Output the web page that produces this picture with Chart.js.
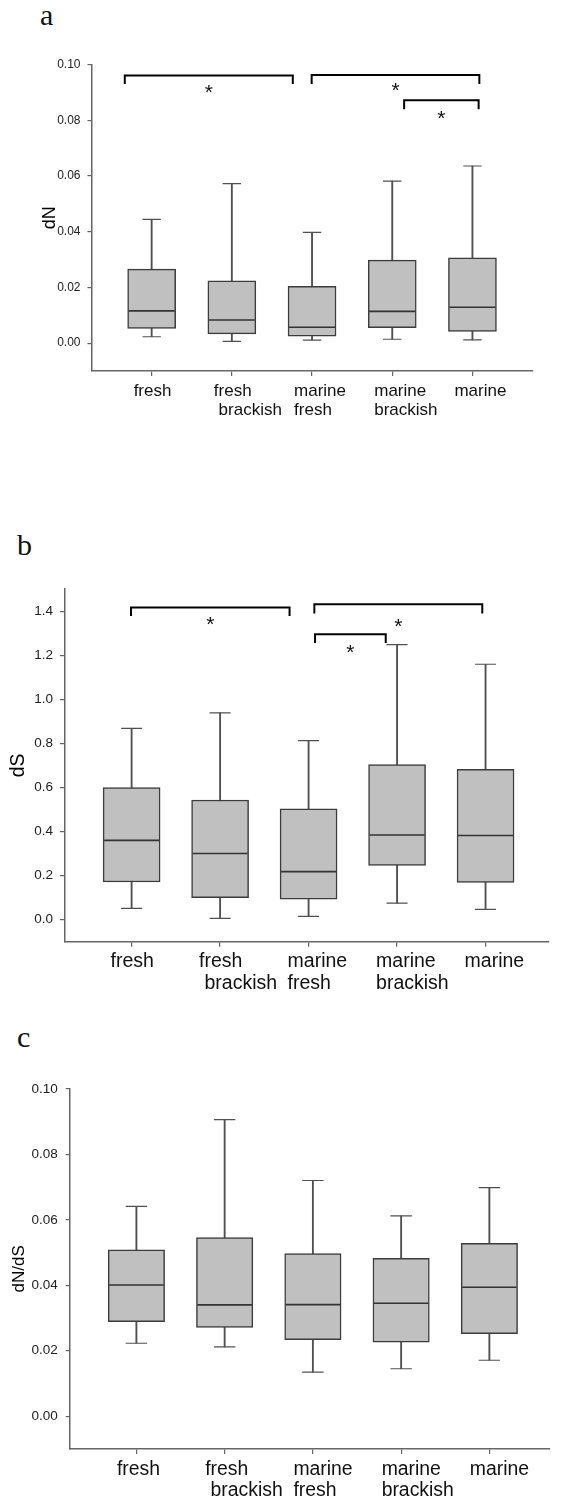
<!DOCTYPE html>
<html>
<head>
<meta charset="utf-8">
<script src="https://cdn.jsdelivr.net/npm/chart.js@4.4.1/dist/chart.umd.min.js"></script>
<style>
  html, body { margin: 0; padding: 0; background: #fff; }
  body { width: 578px; height: 1503px; position: relative; overflow: hidden; }
  .panel { position: absolute; left: 0; width: 578px; }
  .tag { position: absolute; font-family: "Liberation Serif", "Times New Roman", serif; font-size: 30px; line-height: 30px; color: #111; }
</style>
</head>
<body>
<div class="tag" style="left:40px; top:0px;">a</div>
<div class="panel" style="top:40px; height:400px;"><canvas id="chartA"></canvas></div>
<div class="tag" style="left:17px; top:530px;">b</div>
<div class="panel" style="top:560px; height:440px;"><canvas id="chartB"></canvas></div>
<div class="tag" style="left:17px; top:1022px;">c</div>
<div class="panel" style="top:1060px; height:443px;"><canvas id="chartC"></canvas></div>

<script>
// categories (shared by all three panels)
const groupLabels = [['fresh'], ['fresh', ' brackish'], ['marine', 'fresh'], ['marine', 'brackish'], ['marine']];
const groupPos = [1, 2, 3, 4, 5];

// a - dN
const dnMin    = [0.0023, 0.0006, 0.0011, 0.0014, 0.0012];
const dnQ1     = [0.0053, 0.0033, 0.0025, 0.0056, 0.0042];
const dnMedian = [0.0116, 0.0083, 0.0057, 0.0114, 0.0129];
const dnQ3     = [0.0266, 0.0224, 0.0204, 0.0298, 0.0306];
const dnMax    = [0.0444, 0.0573, 0.0398, 0.0582, 0.0636];
const dnTicks  = [0, 0.02, 0.04, 0.06, 0.08, 0.10];
// significance brackets: [from, to, top, drop, star y]
const dnBrackets = [
  [0.665, 2.76, 0.0961, 0.0930, 0.0922],
  [2.995, 5.086, 0.0963, 0.0930, 0.0926],
  [4.148, 5.077, 0.0872, 0.0840, 0.0828]
];

// b - dS
const dsMin    = [0.051, 0.006, 0.015, 0.075, 0.047];
const dsQ1     = [0.171, 0.100, 0.093, 0.246, 0.169];
const dsMedian = [0.360, 0.300, 0.218, 0.384, 0.382];
const dsQ3     = [0.599, 0.543, 0.503, 0.704, 0.682];
const dsMax    = [0.868, 0.938, 0.812, 1.248, 1.159];
const dsTicks  = [0, 0.2, 0.4, 0.6, 0.8, 1.0, 1.2, 1.4];
const dsBrackets = [
  [0.993, 2.785, 1.417, 1.378, 1.364],
  [3.065, 4.963, 1.431, 1.389, 1.358],
  [3.073, 3.872, 1.295, 1.255, 1.237]
];

// c - dN/dS
const ratioMin    = [0.0223, 0.0212, 0.0135, 0.0145, 0.0171];
const ratioQ1     = [0.0289, 0.0271, 0.0234, 0.0226, 0.0252];
const ratioMedian = [0.0401, 0.0340, 0.0341, 0.0345, 0.0394];
const ratioQ3     = [0.0508, 0.0546, 0.0497, 0.0482, 0.0528];
const ratioMax    = [0.0641, 0.0906, 0.0720, 0.0612, 0.0698];
const ratioTicks  = [0, 0.02, 0.04, 0.06, 0.08, 0.10];

Chart.defaults.font.family = '"Liberation Sans", Arial, sans-serif';
Chart.defaults.color = '#111';

// asterisks over the brackets
const STAR_SIZE = 21;
const starPlugin = {
  id: 'stars',
  afterDatasetsDraw(chart, args, opts) {
    const marks = opts.marks || [];
    const { ctx } = chart;
    const x = chart.scales.x, y = chart.scales.y;
    ctx.save();
    ctx.font = STAR_SIZE + 'px "Liberation Sans", Arial, sans-serif';
    ctx.fillStyle = '#111';
    ctx.textAlign = 'center';
    ctx.textBaseline = 'alphabetic';
    marks.forEach(b => {
      const px = x.getPixelForValue((b[0] + b[1]) / 2);
      const py = y.getPixelForValue(b[4]);
      ctx.fillText('*', px, py + 0.58 * STAR_SIZE);
    });
    ctx.restore();
  }
};

function buildPanel(id, p) {
  const datasets = [
    { // whiskers
      type: 'bar',
      data: groupPos.map((x, i) => ({ x: x, y: [p.min[i], p.max[i]] })),
      barThickness: 1.2,
      backgroundColor: '#505050',
      grouped: false,
      order: 4
    },
    { // boxes
      type: 'bar',
      data: groupPos.map((x, i) => ({ x: x, y: [p.q1[i], p.q3[i]] })),
      barThickness: p.boxWidth,
      backgroundColor: '#c0c0c0',
      borderColor: '#3c3c3c',
      borderWidth: 1.5,
      borderSkipped: false,
      grouped: false,
      order: 3
    },
    { // caps
      type: 'line',
      showLine: false,
      data: groupPos.flatMap((x, i) => [{ x: x, y: p.min[i] }, { x: x, y: p.max[i] }]),
      pointStyle: 'line',
      pointRadius: p.capWidth / 2,
      borderColor: '#505050',
      pointBorderColor: '#505050',
      pointBorderWidth: 1.2,
      order: 2
    },
    { // medians
      type: 'line',
      showLine: false,
      data: groupPos.map((x, i) => ({ x: x, y: p.median[i] })),
      pointStyle: 'line',
      pointRadius: p.boxWidth / 2 - 1,
      borderColor: '#333',
      pointBorderColor: '#333',
      pointBorderWidth: 1.6,
      order: 1
    }
  ];

  (p.brackets || []).forEach(b => {
    datasets.push({
      type: 'line',
      data: [{ x: b[0], y: b[3] }, { x: b[0], y: b[2] }, { x: b[1], y: b[2] }, { x: b[1], y: b[3] }],
      borderColor: '#000',
      borderWidth: 2,
      pointRadius: 0,
      tension: 0,
      fill: false,
      order: 0
    });
  });

  new Chart(document.getElementById(id), {
    type: 'bar',
    data: { datasets: datasets },
    plugins: [starPlugin],
    options: {
      responsive: true,
      maintainAspectRatio: false,
      animation: false,
      events: [],
      layout: { padding: { top: p.padTop, right: p.padRight, left: 0, bottom: 0 } },
      plugins: {
        legend: { display: false },
        tooltip: { enabled: false },
        stars: { marks: p.brackets || [] }
      },
      scales: {
        x: {
          type: 'linear',
          min: p.xMin,
          max: p.xMax,
          offset: false,
          bounds: 'data',
          afterBuildTicks: s => { s.ticks = groupPos.map(v => ({ value: v })); },
          afterFit: s => { s.height = p.xAxisHeight; },
          border: { display: true, color: '#666', width: 1.5 },
          grid: { display: true, drawOnChartArea: false, drawTicks: true, tickLength: 5, color: '#666', lineWidth: 1.2, offset: false },
          ticks: {
            autoSkip: false,
            maxRotation: 0,
            minRotation: 0,
            align: 'start',
            labelOffset: p.labelOffset,
            padding: p.labelPad,
            color: '#111',
            font: { size: p.xFont, lineHeight: p.xLine },
            callback: v => groupLabels[Math.round(v) - 1]
          }
        },
        y: {
          type: 'linear',
          min: p.yMin,
          max: p.yMax,
          bounds: 'data',
          afterBuildTicks: s => { s.ticks = p.ticks.map(v => ({ value: v })); },
          afterFit: s => { s.width = p.yAxisWidth; },
          border: { display: true, color: '#666', width: 1.5 },
          grid: { display: true, drawOnChartArea: false, drawTicks: true, tickLength: p.yTickLen, color: '#666', lineWidth: 1.2 },
          ticks: {
            padding: p.yPad,
            color: '#222',
            font: { size: p.yFont },
            callback: v => Number(v).toFixed(p.dec)
          },
          title: {
            display: true,
            text: p.title,
            color: '#000',
            font: { size: p.titleFont, lineHeight: 1.2 },
            padding: { top: p.titlePad, bottom: 0 }
          }
        }
      }
    }
  });
}

buildPanel('chartA', {
  min: dnMin, q1: dnQ1, median: dnMedian, q3: dnQ3, max: dnMax, ticks: dnTicks, brackets: dnBrackets,
  yMin: -0.01, yMax: 0.10, dec: 2, xMin: 0.25, xMax: 5.75,
  boxWidth: 48, capWidth: 18.4,
  padTop: 22.3, padRight: 45.4, yAxisWidth: 91.5, xAxisHeight: 69,
  xFont: 17, xLine: 1.076, labelOffset: -18, labelPad: 6.5,
  yFont: 12, yPad: 7, yTickLen: 4,
  title: 'dN', titleFont: 18, titlePad: 39
});

buildPanel('chartB', {
  min: dsMin, q1: dsQ1, median: dsMedian, q3: dsQ3, max: dsMax, ticks: dsTicks, brackets: dsBrackets,
  yMin: -0.1, yMax: 1.5, dec: 1, xMin: 0.246, xMax: 5.716,
  boxWidth: 57, capWidth: 21,
  padTop: 19.3, padRight: 0, yAxisWidth: 64.9, xAxisHeight: 58.3,
  xFont: 19.5, xLine: 1.108, labelOffset: -21, labelPad: 4.2,
  yFont: 13.5, yPad: 7, yTickLen: 5,
  title: 'dS', titleFont: 19.5, titlePad: 6.8
});

buildPanel('chartC', {
  min: ratioMin, q1: ratioQ1, median: ratioMedian, q3: ratioQ3, max: ratioMax, ticks: ratioTicks,
  yMin: -0.01, yMax: 0.10, dec: 2, xMin: 0.2475, xMax: 5.678,
  boxWidth: 56.4, capWidth: 21.4,
  padTop: 27.7, padRight: 0, yAxisWidth: 70, xAxisHeight: 54,
  xFont: 19.4, xLine: 1.082, labelOffset: -19.5, labelPad: 5.5,
  yFont: 13.5, yPad: 8, yTickLen: 4.3,
  title: 'dN/dS', titleFont: 17, titlePad: 9.5
});
</script>
</body>
</html>
